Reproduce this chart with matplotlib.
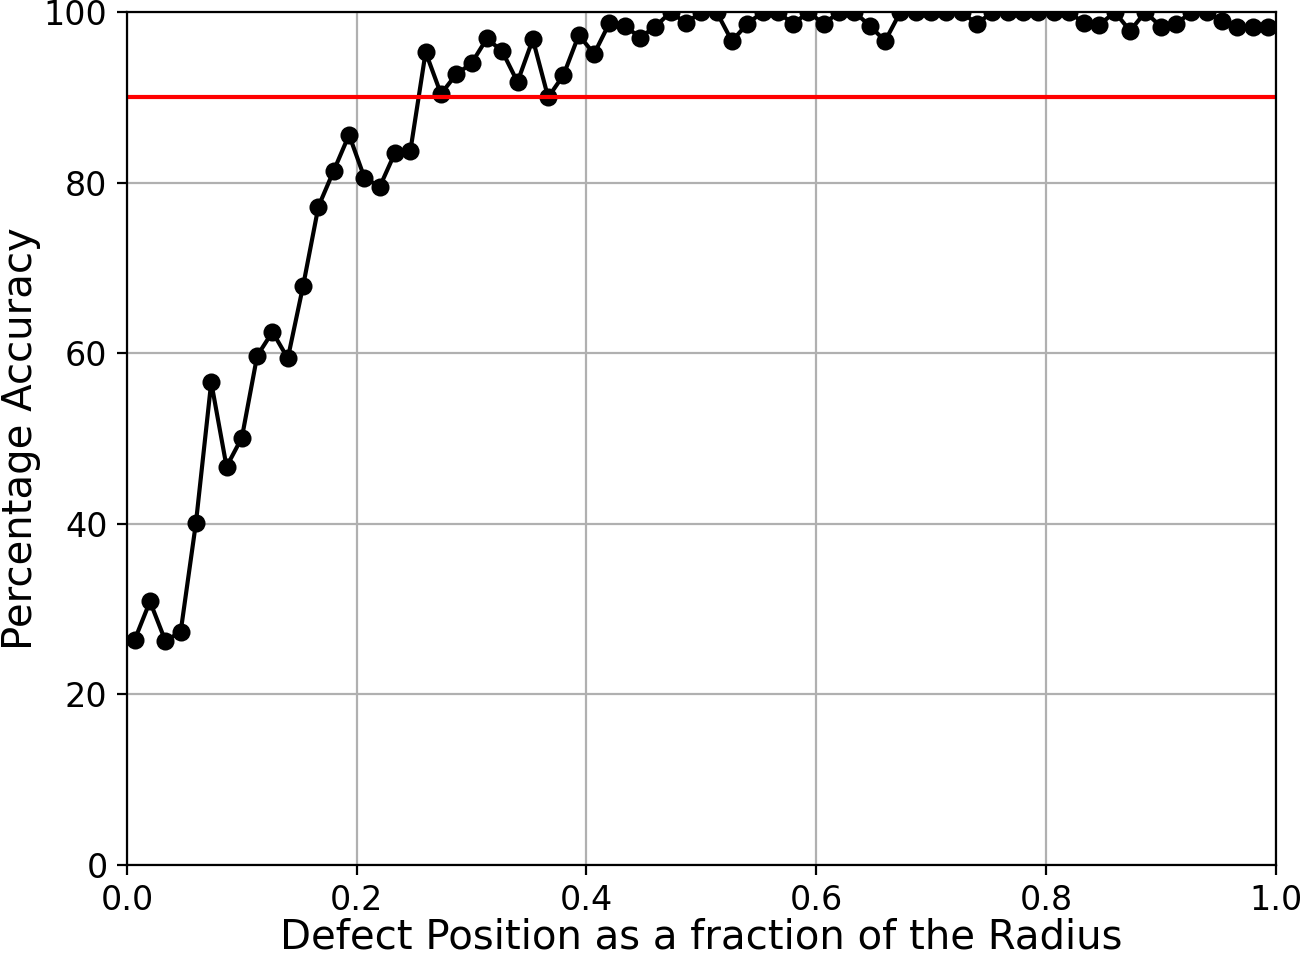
import numpy as np
import matplotlib
matplotlib.use("Agg")
import matplotlib.pyplot as plt

# accuracy for each defect position (75 positions across the radius)
accuracy = [26.4, 30.9, 26.3, 27.3, 40.1, 56.6, 46.7, 50.1, 59.7, 62.5,
            59.4, 67.9, 77.2, 81.4, 85.6, 80.6, 79.5, 83.5, 83.7, 95.3,
            90.4, 92.7, 94.0, 96.9, 95.4, 91.8, 96.8, 90.0, 92.6, 97.3,
            95.1, 98.7, 98.4, 97.0, 98.3, 100, 98.7, 100, 100, 96.6,
            98.6, 100, 100, 98.6, 100, 98.6, 100, 100, 98.4, 96.6,
            100, 100, 100, 100, 100, 98.6, 100, 100, 100, 100,
            100, 100, 98.7, 98.5, 100, 97.8, 100, 98.3, 98.6, 100,
            100, 98.9, 98.3, 98.3, 98.3]
n_pos = len(accuracy)
position = (np.arange(n_pos) + 0.5) / n_pos
threshold = 90

fig = plt.figure(figsize=(6.5, 4.775), dpi=200)
ax = fig.add_axes([0.0977, 0.0942, 0.8835, 0.8932])

ax.plot(position, accuracy, color='black', marker='o', markersize=5.5, linewidth=1.5)
ax.axhline(threshold, color='red', linewidth=1.5)

ax.set_xlim(0, 1)
ax.set_ylim(0, 100)
ax.set_xticks([0.0, 0.2, 0.4, 0.6, 0.8, 1.0])
ax.set_yticks([0, 20, 40, 60, 80, 100])
ax.tick_params(labelsize=12)
ax.grid(True)
ax.set_xlabel('Defect Position as a fraction of the Radius', fontsize=14.5, labelpad=0)
ax.set_ylabel('Percentage Accuracy', fontsize=14.5, labelpad=1)

fig.savefig('out.png', dpi=200)
